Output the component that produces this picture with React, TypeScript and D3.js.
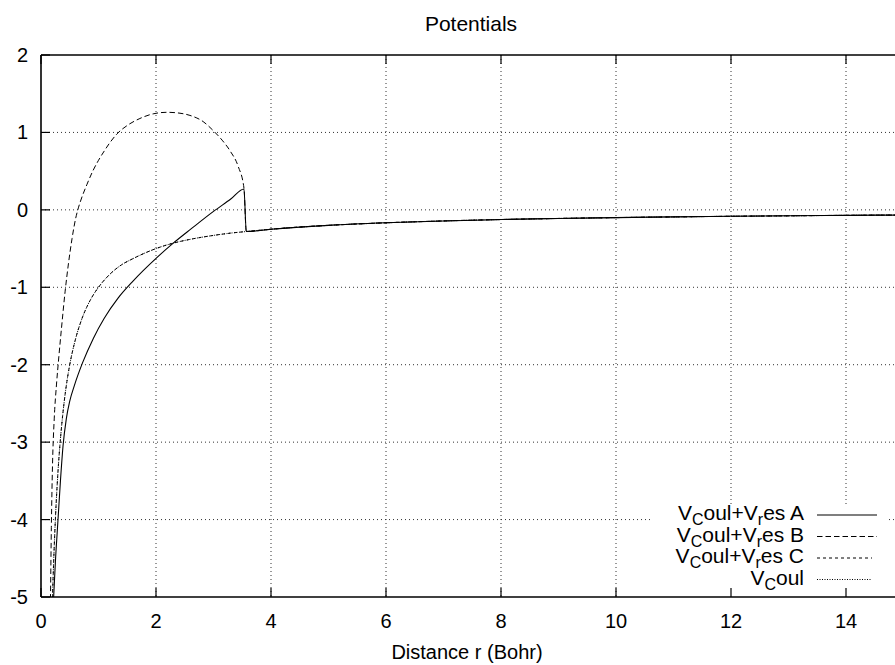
import React from "react";
import * as d3 from "d3";

// ---------- data ----------
const xTicks = [0, 2, 4, 6, 8, 10, 12, 14];
const yTicks = [-5, -4, -3, -2, -1, 0, 1, 2];

// V_Coul
const rCoul = [0.18, 0.2, 0.22, 0.25, 0.28, 0.3, 0.33, 0.36, 0.4, 0.45, 0.5, 0.6, 0.7, 0.8, 0.9, 1.0, 1.2, 1.4, 1.6, 1.8, 2.0, 2.3, 2.6, 3.0, 3.3, 3.57, 4, 5, 6, 7, 8, 9, 10, 11, 12, 13, 14, 15];
const vCoul = [-5.56, -5.0, -4.55, -4.0, -3.57, -3.33, -3.03, -2.78, -2.5, -2.22, -2.0, -1.67, -1.43, -1.25, -1.11, -1.0, -0.83, -0.71, -0.63, -0.56, -0.5, -0.43, -0.38, -0.33, -0.3, -0.28, -0.25, -0.2, -0.167, -0.143, -0.125, -0.111, -0.1, -0.091, -0.083, -0.077, -0.071, -0.067];

// V_Coul + V_res A
const rA = [0.2, 0.22, 0.25, 0.296, 0.34, 0.383, 0.44, 0.5, 0.58, 0.72, 0.91, 1.1, 1.34, 1.6, 2.01, 2.3, 2.62, 3.0, 3.3, 3.53, 3.57, 4, 5, 6, 7, 8, 9, 10, 11, 12, 13, 14, 15];
const vA = [-5.35, -5.0, -4.55, -4.0, -3.48, -3.05, -2.7, -2.47, -2.27, -1.98, -1.66, -1.4, -1.14, -0.92, -0.62, -0.43, -0.24, -0.02, 0.14, 0.27, -0.28, -0.25, -0.2, -0.167, -0.143, -0.125, -0.111, -0.1, -0.091, -0.083, -0.077, -0.071, -0.067];

// V_Coul + V_res B
const rB = [0.15, 0.165, 0.18, 0.2, 0.23, 0.27, 0.31, 0.36, 0.42, 0.48, 0.54, 0.6, 0.64, 0.7, 0.8, 0.9, 1.0, 1.1, 1.2, 1.32, 1.5, 1.72, 1.95, 2.19, 2.4, 2.59, 2.82, 3.0, 3.15, 3.29, 3.43, 3.53, 3.57, 4, 5, 6, 7, 8, 9, 10, 11, 12, 13, 14, 15];
const vB = [-5.8, -5.0, -4.1, -3.3, -2.7, -2.25, -1.9, -1.5, -1.05, -0.68, -0.37, -0.12, 0.0, 0.14, 0.33, 0.5, 0.64, 0.76, 0.87, 0.98, 1.09, 1.18, 1.24, 1.26, 1.25, 1.22, 1.14, 1.02, 0.9, 0.76, 0.56, 0.28, -0.28, -0.25, -0.2, -0.167, -0.143, -0.125, -0.111, -0.1, -0.091, -0.083, -0.077, -0.071, -0.067];

// V_Coul + V_res C
const rC = [0.18, 0.2, 0.22, 0.25, 0.28, 0.3, 0.33, 0.36, 0.4, 0.45, 0.5, 0.6, 0.7, 0.8, 0.9, 1.0, 1.2, 1.4, 1.6, 1.8, 2.0, 2.3, 2.6, 3.0, 3.3, 3.57, 4, 5, 6, 7, 8, 9, 10, 11, 12, 13, 14, 15];
const vC = [-5.56, -5.0, -4.55, -4.0, -3.57, -3.33, -3.03, -2.78, -2.5, -2.22, -2.0, -1.67, -1.43, -1.25, -1.11, -1.0, -0.83, -0.71, -0.63, -0.56, -0.5, -0.43, -0.38, -0.33, -0.3, -0.28, -0.25, -0.2, -0.167, -0.143, -0.125, -0.111, -0.1, -0.091, -0.083, -0.077, -0.071, -0.067];

const seriesNames = ["A", "B", "C", "Coul"];

// ---------- layout ----------
const W = 895;
const H = 665;
const L = 41;
const T = 55;
const B = 597;
const R = 903.5;
const FONT = "'Liberation Sans', Arial, Helvetica, sans-serif";
const FS = 20;
const FS_LEG = 21;

export default function App() {
  const x = d3.scaleLinear().domain([0, 15]).range([L, R]);
  const y = d3.scaleLinear().domain([-5, 2]).range([B, T]);

  const mk = (rs: number[], vs: number[]) =>
    d3
      .line<number>()
      .x((_, i) => x(rs[i]))
      .y((v) => y(v))
      .curve(d3.curveMonotoneX)(vs) as string;

  const series = [
    { name: seriesNames[0], d: mk(rA, vA), dash: undefined, w: 1.1 },
    { name: seriesNames[1], d: mk(rB, vB), dash: "5.5,3", w: 1 },
    { name: seriesNames[2], d: mk(rC, vC), dash: "3,3", w: 1 },
    { name: seriesNames[3], d: mk(rCoul, vCoul), dash: "1,1.5", w: 1 },
  ];

  const legendRows = [515, 536.5, 558, 579.5];
  const legendTextX = 804;
  const sampleX1 = 817;
  const sampleX2 = [877, 877, 872, 872];

  const sub = (s: string) => (
    <tspan dy={5} fontSize={16}>
      {s}
    </tspan>
  );

  return (
    <svg
      width={W}
      height={H}
      style={{ position: "absolute", left: 0, top: 0, background: "#fff" }}
      fontFamily={FONT}
    >
      <defs>
        <clipPath id="plotclip">
          <rect x={L} y={T} width={R - L} height={B - T} />
        </clipPath>
      </defs>
      <rect x={0} y={0} width={W} height={H} fill="#fff" />

      {/* grid */}
      <g stroke="#333" strokeWidth={1} strokeDasharray="1,3">
        {xTicks
          .filter((t) => t !== 0)
          .map((t) => (
            <line key={"gx" + t} x1={x(t)} x2={x(t)} y1={T} y2={B} />
          ))}
        {yTicks
          .filter((t) => t !== -5 && t !== 2)
          .map((t) => (
            <line key={"gy" + t} x1={L} x2={R} y1={y(t)} y2={y(t)} />
          ))}
      </g>

      {/* legend background */}
      <rect x={650} y={504} width={236} height={B - 504 - 1} fill="#fff" />

      {/* curves */}
      <g clipPath="url(#plotclip)" fill="none" stroke="#000">
        {series.map((s) => (
          <path key={s.name} d={s.d} strokeWidth={s.w} strokeDasharray={s.dash} />
        ))}
      </g>

      {/* border */}
      <g stroke="#000" strokeWidth={1.6} fill="none">
        <line x1={L} x2={L} y1={T} y2={B} />
        <line x1={L} x2={R} y1={B} y2={B} />
        <line x1={L} x2={R} y1={T} y2={T} />
      </g>

      {/* ticks */}
      <g stroke="#000" strokeWidth={1.2}>
        {xTicks.map((t) => (
          <g key={"tx" + t}>
            <line x1={x(t)} x2={x(t)} y1={B} y2={B - 9} />
            <line x1={x(t)} x2={x(t)} y1={T} y2={T + 9} />
          </g>
        ))}
        {yTicks.map((t) => (
          <line key={"ty" + t} x1={L} x2={L + 9} y1={y(t)} y2={y(t)} />
        ))}
      </g>

      {/* tick labels */}
      <g fontSize={FS} fill="#000">
        {xTicks.map((t) => (
          <text key={"lx" + t} x={x(t)} y={628} textAnchor="middle">
            {t}
          </text>
        ))}
        {yTicks.map((t) => (
          <text key={"ly" + t} x={28} y={y(t) + 7} textAnchor="end">
            {t}
          </text>
        ))}
      </g>

      {/* title and axis label */}
      <text x={471} y={31} textAnchor="middle" fontSize={21}>
        Potentials
      </text>
      <text x={467} y={659} textAnchor="middle" fontSize={FS}>
        Distance r (Bohr)
      </text>

      {/* legend */}
      <g fontSize={FS_LEG} fill="#000">
        {series.map((s, i) => (
          <g key={"lg" + s.name}>
            {s.name === "Coul" ? (
              <text x={legendTextX} y={legendRows[i] + 5} textAnchor="end">
                V{sub("C")}
                <tspan dy={-5}>oul</tspan>
              </text>
            ) : (
              <text x={legendTextX} y={legendRows[i] + 5} textAnchor="end">
                V{sub("C")}
                <tspan dy={-5}>oul+V</tspan>
                {sub("r")}
                <tspan dy={-5}>{"es " + s.name}</tspan>
              </text>
            )}
            <line
              x1={sampleX1}
              x2={sampleX2[i]}
              y1={legendRows[i]}
              y2={legendRows[i]}
              stroke="#000"
              strokeWidth={s.w}
              strokeDasharray={s.dash}
            />
          </g>
        ))}
      </g>
    </svg>
  );
}
